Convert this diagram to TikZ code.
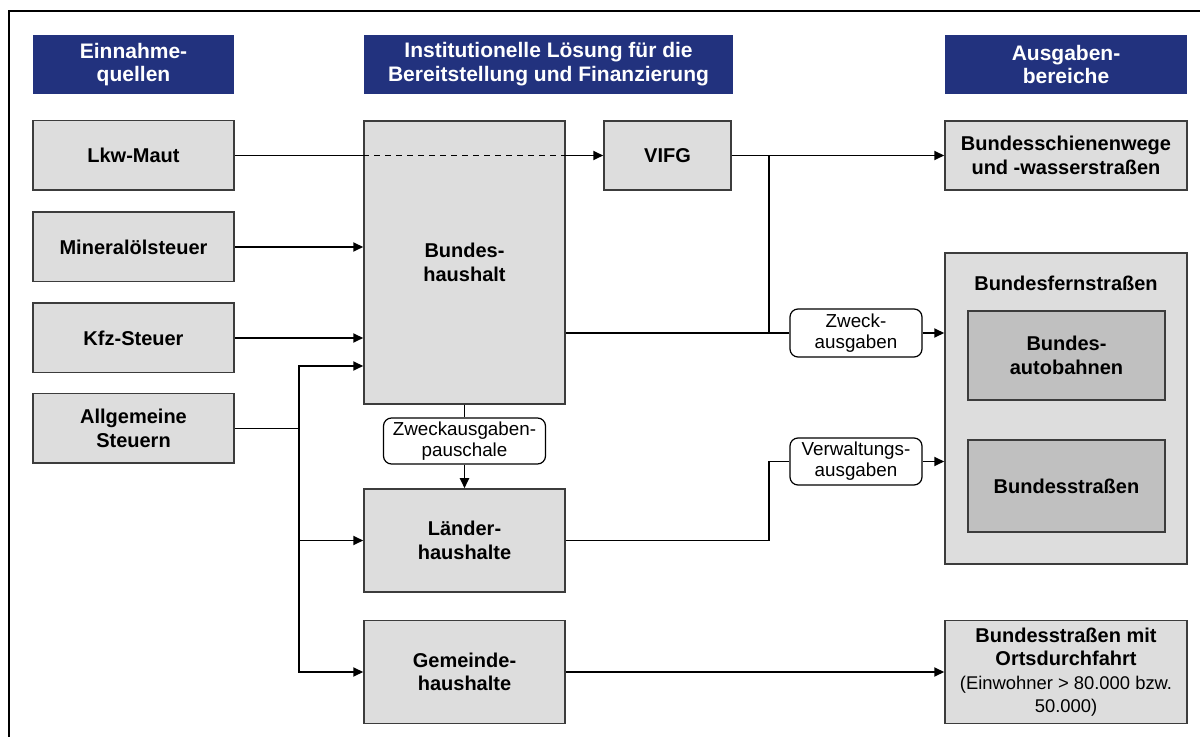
\documentclass[tikz,border=0pt]{standalone}
\usepackage{fontspec}
\setmainfont{Liberation Sans}
\usepackage{tikz}
\usetikzlibrary{arrows.meta, positioning, calc}
\definecolor{HdrBlue}{HTML}{22327E}
\definecolor{BoxGray}{HTML}{DDDDDD}
\definecolor{InGray}{HTML}{C0C0C0}
\definecolor{EdgeGray}{HTML}{3C3C3C}

\begin{document}
\begin{tikzpicture}[
    x=0.5pt, y=-0.5pt, >=Triangle,
    font=\fontsize{10}{11.7}\selectfont,
    hdr/.style={fill=HdrBlue, text=white, font=\fontsize{10.5}{11.9}\selectfont\bfseries,
      align=center, inner sep=0pt, minimum height=29.5pt},
    box/.style={draw=EdgeGray, fill=BoxGray, line width=0.75pt,
      font=\fontsize{10}{11.7}\selectfont\bfseries, align=center, inner sep=0pt},
    src/.style={box, minimum width=100.5pt, minimum height=34.75pt},
    mid/.style={box, minimum width=100.5pt},
    dst/.style={box, minimum width=121pt},
    inbox/.style={box, fill=InGray, minimum width=98.5pt},
    tag/.style={draw, fill=white, rounded corners=4pt, line width=0.6pt, align=center,
      inner sep=0pt, font=\fontsize{9.4}{10.5}\selectfont},
    line/.style={line width=0.9pt},
    arr/.style={line, -{Triangle[length=5pt, width=4.5pt]}},
  ]
  \useasboundingbox (0,0) rectangle (1200,737);
  % --- Rahmen (oben und links) ---
  \draw[line width=1.4pt] (9,737) -- (9,11) -- (1200,11);
  % --- Kopfzeilen ---
  \node[hdr, minimum width=100.5pt] (hdrA) at (133.5,64.5) {Einnahme-\\quellen};
  \node[hdr, minimum width=184.5pt] (hdrB) at (548.5,64.5) {Institutionelle Lösung für die\\Bereitstellung und Finanzierung};
  \node[hdr, minimum width=121pt] (hdrC) at (1066,64.5) {Ausgaben-\\bereiche};
  % --- Einnahmequellen ---
  \foreach \nm/\cy/\txt in {lkw/155.5/Lkw-Maut, min/247/Mineralölsteuer,
      kfz/338/Kfz-Steuer, allg/428.5/{Allgemeine\\Steuern}}{
    \node[src] (\nm) at (133.5,\cy) {\txt};
  }
  % --- Institutionen ---
  \node[mid, minimum height=141.5pt] (bund) at (464.5,262.5) {Bundes-\\haushalt};
  \node[box, minimum width=63.5pt, minimum height=34.5pt] (vifg) at (667.5,155.5) {VIFG};
  \node[tag, minimum width=81pt, minimum height=23pt] (pausch) at (464.5,441) {Zweckausgaben-\\pauschale};
  \node[mid, minimum height=51.5pt] (laend) at (464.5,540.5) {Länder-\\haushalte};
  \node[mid, minimum height=51.5pt] (gem) at (464.5,672) {Gemeinde-\\haushalte};
  % --- Ausgabenbereiche ---
  \node[dst, minimum height=34.5pt] (schiene) at (1066,155.5) {Bundesschienenwege\\und -wasserstraßen};
  \node[dst, minimum height=155.5pt] (fern) at (1066,408.5) {};
  \node[font=\fontsize{10}{11.7}\selectfont\bfseries] (fernT) at (1066,283) {Bundesfernstraßen};
  \node[inbox, minimum height=44.5pt] (bab) at (1066.5,355.5) {Bundes-\\autobahnen};
  \node[inbox, minimum height=46pt] (bstr) at (1066.5,486) {Bundesstraßen};
  \node[dst, minimum height=51.5pt] (ort) at (1066,672)
    {Bundesstraßen mit\\Ortsdurchfahrt\\\mdseries\fontsize{9.2}{11.2}\selectfont(Einwohner > 80.000 bzw.\\\mdseries\fontsize{9.2}{11.2}\selectfont 50.000)};
  % --- Zweck-Etiketten ---
  \node[tag, minimum width=66pt, minimum height=24pt] (zweck) at (856,333) {Zweck-\\ausgaben};
  \node[tag, minimum width=66pt, minimum height=23.5pt] (verw) at (856,461.5) {Verwaltungs-\\ausgaben};
  % --- Verbindungen links ---
  \draw[line] (lkw.east) -- (lkw.east -| bund.west);
  \draw[line, dashed, dash pattern=on 3pt off 2.5pt, line width=0.6pt] (lkw.east -| bund.west) -- (lkw.east -| bund.east);
  \draw[arr] (lkw.east -| bund.east) -- (vifg.west);
  \draw[arr] (min.east) -- (min.east -| bund.west);
  \draw[arr] (kfz.east) -- (kfz.east -| bund.west);
  \coordinate (jA) at (299,428.5);
  \draw[line] (allg.east) -- (jA);
  \draw[arr] (jA) |- (bund.west |- 0,366);
  \draw[arr] (jA) |- (laend.west);
  \draw[arr] (jA) |- (gem.west);
  \draw[line] (bund.south) -- (pausch.north);
  \draw[arr] (pausch.south) -- (laend.north);
  % --- Verbindungen rechts ---
  \coordinate (jB) at (769,155.5);
  \draw[arr] (vifg.east) -- (schiene.west);
  \draw[line] (jB) -- (jB |- zweck.west);
  \draw[line] (bund.east |- zweck.west) -- (zweck.west);
  \draw[arr] (zweck.east) -- (zweck.east -| fern.west);
  \draw[line] (laend.east) -- (laend.east -| jB) |- (verw.west);
  \draw[arr] (verw.east) -- (verw.east -| fern.west);
  \draw[arr] (gem.east) -- (gem.east -| ort.west);
\end{tikzpicture}
\end{document}
